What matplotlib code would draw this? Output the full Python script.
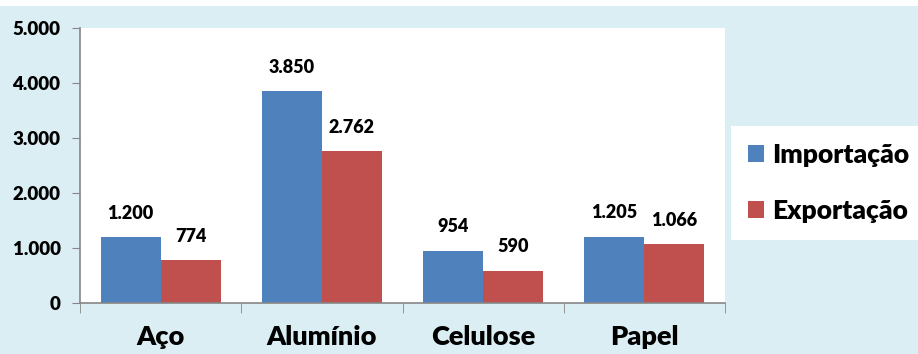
import matplotlib
matplotlib.use('Agg')
import matplotlib.pyplot as plt
from matplotlib.patches import Rectangle
import numpy as np

plt.rcParams['font.family'] = ['Lato', 'DejaVu Sans']
plt.rcParams['font.weight'] = 'heavy'

categorias = ['Aço', 'Alumínio', 'Celulose', 'Papel']
importacao = [1200, 3850, 954, 1205]
exportacao = [774, 2762, 590, 1066]
yticks = [0, 1000, 2000, 3000, 4000, 5000]
ytick_labels = ['0', '1.000', '2.000', '3.000', '4.000', '5.000']

azul = '#4f81bd'
vermelho = '#c0504d'
fundo = '#daeef3'
eixo = '#868686'

def fmt(v):
    return '{:,}'.format(v).replace(',', '.')

fig = plt.figure(figsize=(9.18, 3.54), dpi=100, facecolor='white')
fig.patches.append(Rectangle((0, 0), 1, 1 - 6 / 354, transform=fig.transFigure,
                             facecolor=fundo, edgecolor='none', zorder=-10))

ax = fig.add_axes([80 / 918, 51 / 354, 645 / 918, 275 / 354])
ax.set_facecolor('white')

x = np.arange(len(categorias))
w = 0.372
b1 = ax.bar(x - w / 2, importacao, w, color=azul, label='Importação')
b2 = ax.bar(x + w / 2, exportacao, w, color=vermelho, label='Exportação')

for bars, vals in ((b1, importacao), (b2, exportacao)):
    for r, v in zip(bars, vals):
        ax.annotate(fmt(v), (r.get_x() + r.get_width() / 2, v),
                    xytext=(0, 11), textcoords='offset points',
                    ha='center', va='bottom', fontsize=13)

ax.set_xlim(-0.5, len(categorias) - 0.5)
ax.set_ylim(0, 5000)
ax.set_yticks(yticks)
ax.set_yticklabels(ytick_labels)
ax.set_xticks(x)
ax.set_xticklabels(categorias)
ax.set_xticks(np.arange(len(categorias) + 1) - 0.5, minor=True)

ax.tick_params(axis='y', length=6, color=eixo, pad=8, labelsize=13.5)
ax.tick_params(axis='x', which='major', length=0, pad=16, labelsize=19.5)
ax.tick_params(axis='x', which='minor', length=7, color=eixo)

for s in ('top', 'right'):
    ax.spines[s].set_visible(False)
for s in ('left', 'bottom'):
    ax.spines[s].set_color(eixo)
    ax.spines[s].set_linewidth(1.2)

# legenda em caixa branca colada na borda direita
leg = fig.legend(handles=[b1, b2], loc='upper left',
                 bbox_to_anchor=(731 / 918, 1 - 239 / 354, 187 / 918, 113 / 354),
                 mode='expand', frameon=True, fancybox=False, fontsize=19,
                 handlelength=0.6, handleheight=0.6, handletextpad=0.3,
                 labelspacing=1.2, borderpad=0.65, borderaxespad=0)
leg.get_frame().set_facecolor('white')
leg.get_frame().set_edgecolor('none')
leg.get_frame().set_alpha(1)

fig.savefig('out.png', dpi=100, facecolor=fig.get_facecolor())
